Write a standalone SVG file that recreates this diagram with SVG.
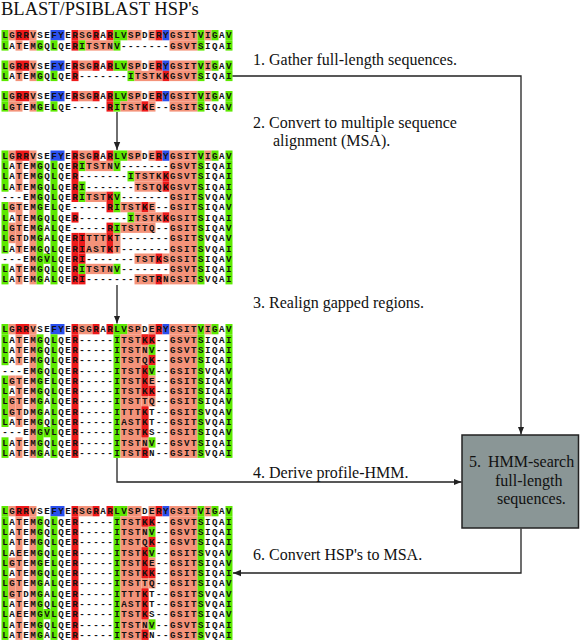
<svg xmlns="http://www.w3.org/2000/svg" xmlns:xlink="http://www.w3.org/1999/xlink" width="580" height="641" viewBox="0 0 580 641">
<style>
.g{fill:#5de800}.r{fill:#ee1a1a}.s{fill:#f4937a}.b{fill:#2b50ee}
.sq{font-family:"Liberation Mono","DejaVu Sans Mono",monospace;font-weight:bold;font-size:9.2px;letter-spacing:1.48px;fill:#111}
.lbl{font-family:"Liberation Serif","Times New Roman",serif;font-size:16px;fill:#111}
.ttl{font-family:"Liberation Serif","Times New Roman",serif;font-size:18.5px;fill:#111}
.ln{fill:none;stroke:#222;stroke-width:1.3}
</style>
<defs>
<marker id="ah" viewBox="0 0 10 10" refX="10" refY="5" markerWidth="8" markerHeight="8" markerUnits="userSpaceOnUse" orient="auto"><path d="M0,1L10,5L0,9z" fill="#222"/></marker>
<g id="q">
<rect class="g" x="0" width="1" height="1"/><rect class="s" x="1" width="1" height="1"/><rect class="r" x="2" width="2" height="1"/><rect class="s" x="4" width="1" height="1"/><rect class="b" x="7" width="2" height="1"/><rect class="r" x="10" width="1" height="1"/><rect class="s" x="11" width="2" height="1"/><rect class="r" x="13" width="1" height="1"/><rect class="r" x="15" width="1" height="1"/><rect class="g" x="16" width="2" height="1"/><rect class="s" x="18" width="2" height="1"/><rect class="s" x="21" width="1" height="1"/><rect class="r" x="22" width="1" height="1"/><rect class="b" x="23" width="1" height="1"/><rect class="s" x="24" width="4" height="1"/><rect class="g" x="28" width="1" height="1"/><rect class="s" x="29" width="1" height="1"/><rect class="g" x="30" width="1" height="1"/><rect class="g" x="32" width="1" height="1"/>
</g>
<g id="pa"><rect class="g" x="0" width="1" height="1"/><rect class="s" x="2" width="1" height="1"/><rect class="s" x="4" width="1" height="1"/><rect class="g" x="5" width="1" height="1"/><rect class="g" x="7" width="1" height="1"/><rect class="r" x="10" width="1" height="1"/></g>
<g id="pb"><rect class="g" x="0" width="1" height="1"/><rect class="s" x="1" width="2" height="1"/><rect class="s" x="4" width="1" height="1"/><rect class="g" x="5" width="1" height="1"/><rect class="g" x="7" width="1" height="1"/></g>
<g id="sf"><rect class="s" x="24" width="4" height="1"/><rect class="g" x="28" width="1" height="1"/><rect class="g" x="32" width="1" height="1"/></g>
</defs>
<rect width="580" height="641" fill="#fff"/>
<text class="ttl" x="1" y="14.5">BLAST/PSIBLAST HSP's</text>

<g id="block1">
<g transform="translate(1.5,30) scale(7,10.3)">
<use xlink:href="#q"/>
<g transform="translate(0,1)"><use xlink:href="#pa"/><rect class="g" x="11" width="1" height="1"/><rect class="s" x="12" width="4" height="1"/><rect class="g" x="16" width="1" height="1"/><use xlink:href="#sf"/></g>
</g>
<g transform="translate(1.5,60.5) scale(7,10.3)">
<use xlink:href="#q"/>
<g transform="translate(0,1)"><use xlink:href="#pa"/><rect class="g" x="18" width="1" height="1"/><rect class="s" x="19" width="4" height="1"/><rect class="r" x="23" width="1" height="1"/><use xlink:href="#sf"/></g>
</g>
<g transform="translate(1.5,91) scale(7,10.3)">
<use xlink:href="#q"/>
<g transform="translate(0,1)"><use xlink:href="#pb"/><rect class="r" x="15" width="1" height="1"/><rect class="g" x="16" width="1" height="1"/><rect class="s" x="17" width="3" height="1"/><rect class="r" x="20" width="1" height="1"/><rect class="s" x="21" width="1" height="1"/><use xlink:href="#sf"/></g>
</g>
<g class="sq">
<text x="2.24" y="38.3">LGRRVSEFYERSGRARLVSPDERYGSITVIGAV</text>
<text x="2.24" y="48.6">LATEMGQLQERITSTNV-------GSVTSIQAI</text>
<text x="2.24" y="68.8">LGRRVSEFYERSGRARLVSPDERYGSITVIGAV</text>
<text x="2.24" y="79.1">LATEMGQLQER-------ITSTKKGSVTSIQAI</text>
<text x="2.24" y="99.3">LGRRVSEFYERSGRARLVSPDERYGSITVIGAV</text>
<text x="2.24" y="109.6">LGTEMGELQE-----RITSTKE--GSITSIQAV</text>
</g>
</g>

<g id="block2">
<g transform="translate(1.5,150.5) scale(7,10.3)">
<use xlink:href="#q"/>
<rect class="g" x="0" y="1" width="1" height="3"/><rect class="g" x="0" y="5" width="1" height="5"/><rect class="g" x="0" y="11" width="1" height="2"/>
<rect class="s" x="1" y="5" width="1" height="1"/><rect class="s" x="1" y="7" width="1" height="2"/>
<rect class="s" x="2" y="1" width="1" height="3"/><rect class="s" x="2" y="5" width="1" height="5"/><rect class="s" x="2" y="11" width="1" height="2"/>
<rect class="s" x="4" y="1" width="1" height="12"/><rect class="g" x="5" y="1" width="1" height="12"/><rect class="g" x="6" y="10" width="1" height="1"/><rect class="g" x="7" y="1" width="1" height="12"/>
<rect class="r" x="10" y="1" width="1" height="4"/><rect class="r" x="10" y="6" width="1" height="1"/><rect class="r" x="10" y="8" width="1" height="5"/>
<rect class="g" x="11" y="1" width="1" height="1"/><rect class="s" x="12" y="1" width="4" height="1"/><rect class="g" x="16" y="1" width="1" height="1"/>
<rect class="g" x="18" y="2" width="1" height="1"/><rect class="s" x="19" y="2" width="4" height="1"/><rect class="r" x="23" y="2" width="1" height="1"/>
<rect class="g" x="11" y="3" width="1" height="1"/><rect class="s" x="19" y="3" width="4" height="1"/><rect class="r" x="23" y="3" width="1" height="1"/>
<rect class="g" x="11" y="4" width="1" height="1"/><rect class="s" x="12" y="4" width="3" height="1"/><rect class="r" x="15" y="4" width="1" height="1"/><rect class="g" x="16" y="4" width="1" height="1"/>
<rect class="r" x="15" y="5" width="1" height="1"/><rect class="g" x="16" y="5" width="1" height="1"/><rect class="s" x="17" y="5" width="3" height="1"/><rect class="r" x="20" y="5" width="1" height="1"/><rect class="s" x="21" y="5" width="1" height="1"/>
<rect class="g" x="18" y="6" width="1" height="1"/><rect class="s" x="19" y="6" width="4" height="1"/><rect class="r" x="23" y="6" width="1" height="1"/>
<rect class="r" x="15" y="7" width="1" height="1"/><rect class="g" x="16" y="7" width="1" height="1"/><rect class="s" x="17" y="7" width="5" height="1"/>
<rect class="r" x="11" y="8" width="1" height="2"/><rect class="s" x="12" y="8" width="3" height="2"/><rect class="r" x="15" y="8" width="1" height="2"/><rect class="s" x="16" y="8" width="1" height="2"/>
<rect class="r" x="11" y="10" width="1" height="1"/><rect class="s" x="19" y="10" width="3" height="1"/><rect class="r" x="22" y="10" width="1" height="1"/><rect class="s" x="23" y="10" width="1" height="1"/>
<rect class="g" x="11" y="11" width="1" height="1"/><rect class="s" x="12" y="11" width="4" height="1"/><rect class="g" x="16" y="11" width="1" height="1"/>
<rect class="r" x="11" y="12" width="1" height="1"/><rect class="s" x="19" y="12" width="3" height="1"/><rect class="r" x="22" y="12" width="1" height="1"/><rect class="s" x="23" y="12" width="1" height="1"/>
<rect class="s" x="24" y="1" width="4" height="12"/><rect class="g" x="28" y="1" width="1" height="12"/><rect class="g" x="32" y="1" width="1" height="12"/>
</g>
<g class="sq" transform="translate(2.24,150.5)">
<text y="8.3">LGRRVSEFYERSGRARLVSPDERYGSITVIGAV</text>
<text y="18.6">LATEMGQLQERITSTNV-------GSVTSIQAI</text>
<text y="28.9">LATEMGQLQER-------ITSTKKGSVTSIQAI</text>
<text y="39.2">LATEMGQLQERI-------TSTQKGSVTSIQAI</text>
<text y="49.5">---EMGQLQERITSTKV-------GSITSVQAV</text>
<text y="59.8">LGTEMGELQE-----RITSTKE--GSITSIQAV</text>
<text y="70.1">LATEMGQLQER-------ITSTKKGSITSIQAI</text>
<text y="80.4">LGTEMGALQE-----RITSTTQ--GSITSIQAV</text>
<text y="90.7">LGTDMGALQERITTTKT-------GSITSVQAV</text>
<text y="101">LATEMGQLQERIASTKT-------GSITSVQAI</text>
<text y="111.3">---EMGVLQERI-------TSTKSGSITSIQAV</text>
<text y="121.6">LATEMGQLQERITSTNV-------GSVTSIQAI</text>
<text y="131.9">LATEMGALQERI-------TSTRNGSITSVQAI</text>
</g>
</g>

<g id="block3">
<g transform="translate(1.5,324) scale(7,10.3)">
<use xlink:href="#q"/>
<rect class="g" x="0" y="1" width="1" height="3"/><rect class="g" x="0" y="5" width="1" height="5"/><rect class="g" x="0" y="11" width="1" height="2"/>
<rect class="s" x="1" y="5" width="1" height="1"/><rect class="s" x="1" y="7" width="1" height="2"/>
<rect class="s" x="2" y="1" width="1" height="3"/><rect class="s" x="2" y="5" width="1" height="5"/><rect class="s" x="2" y="11" width="1" height="2"/>
<rect class="s" x="4" y="1" width="1" height="12"/><rect class="g" x="5" y="1" width="1" height="12"/><rect class="g" x="6" y="10" width="1" height="1"/><rect class="g" x="7" y="1" width="1" height="12"/>
<rect class="r" x="10" y="1" width="1" height="12"/>
<rect class="g" x="16" y="1" width="1" height="12"/><rect class="s" x="17" y="1" width="3" height="12"/>
<rect class="s" x="20" y="1" width="1" height="12"/><rect class="r" x="20" y="1" width="1" height="1"/><rect class="r" x="20" y="4" width="1" height="3"/><rect class="r" x="20" y="8" width="1" height="3"/><rect class="r" x="20" y="12" width="1" height="1"/>
<rect class="r" x="21" y="1" width="1" height="1"/><rect class="g" x="21" y="2" width="1" height="1"/><rect class="r" x="21" y="3" width="1" height="1"/><rect class="g" x="21" y="4" width="1" height="1"/><rect class="s" x="21" y="5" width="1" height="1"/><rect class="r" x="21" y="6" width="1" height="1"/><rect class="s" x="21" y="7" width="1" height="1"/><rect class="g" x="21" y="11" width="1" height="1"/>
<rect class="s" x="24" y="1" width="4" height="12"/><rect class="g" x="28" y="1" width="1" height="12"/><rect class="g" x="32" y="1" width="1" height="12"/>
</g>
<g class="sq" transform="translate(2.24,324)">
<text y="8.3">LGRRVSEFYERSGRARLVSPDERYGSITVIGAV</text>
<text y="18.6">LATEMGQLQER-----ITSTKK--GSVTSIQAI</text>
<text y="28.9">LATEMGQLQER-----ITSTNV--GSVTSIQAI</text>
<text y="39.2">LATEMGQLQER-----ITSTQK--GSVTSIQAI</text>
<text y="49.5">---EMGQLQER-----ITSTKV--GSITSVQAV</text>
<text y="59.8">LGTEMGELQER-----ITSTKE--GSITSIQAV</text>
<text y="70.1">LATEMGQLQER-----ITSTKK--GSITSIQAI</text>
<text y="80.4">LGTEMGALQER-----ITSTTQ--GSITSIQAV</text>
<text y="90.7">LGTDMGALQER-----ITTTKT--GSITSVQAV</text>
<text y="101">LATEMGQLQER-----IASTKT--GSITSVQAI</text>
<text y="111.3">---EMGVLQER-----ITSTKS--GSITSIQAV</text>
<text y="121.6">LATEMGQLQER-----ITSTNV--GSVTSIQAI</text>
<text y="131.9">LATEMGALQER-----ITSTRN--GSITSVQAI</text>
</g>
</g>

<g id="block4">
<g transform="translate(1.5,506) scale(7,10.3)">
<use xlink:href="#q"/>
<rect class="g" x="0" y="1" width="1" height="12"/>
<rect class="s" x="1" y="5" width="1" height="1"/><rect class="s" x="1" y="7" width="1" height="2"/>
<rect class="s" x="2" y="1" width="1" height="12"/>
<rect class="s" x="4" y="1" width="1" height="12"/><rect class="g" x="5" y="1" width="1" height="12"/><rect class="g" x="6" y="10" width="1" height="1"/><rect class="g" x="7" y="1" width="1" height="12"/>
<rect class="r" x="10" y="1" width="1" height="12"/>
<rect class="g" x="16" y="1" width="1" height="12"/><rect class="s" x="17" y="1" width="3" height="12"/>
<rect class="s" x="20" y="1" width="1" height="12"/><rect class="r" x="20" y="1" width="1" height="1"/><rect class="r" x="20" y="4" width="1" height="3"/><rect class="r" x="20" y="8" width="1" height="3"/><rect class="r" x="20" y="12" width="1" height="1"/>
<rect class="r" x="21" y="1" width="1" height="1"/><rect class="g" x="21" y="2" width="1" height="1"/><rect class="r" x="21" y="3" width="1" height="1"/><rect class="g" x="21" y="4" width="1" height="1"/><rect class="s" x="21" y="5" width="1" height="1"/><rect class="r" x="21" y="6" width="1" height="1"/><rect class="s" x="21" y="7" width="1" height="1"/><rect class="g" x="21" y="11" width="1" height="1"/>
<rect class="s" x="24" y="1" width="4" height="12"/><rect class="g" x="28" y="1" width="1" height="12"/><rect class="g" x="32" y="1" width="1" height="12"/>
</g>
<g class="sq" transform="translate(2.24,506)">
<text y="8.3">LGRRVSEFYERSGRARLVSPDERYGSITVIGAV</text>
<text y="18.6">LATEMGQLQER-----ITSTKK--GSVTSIQAI</text>
<text y="28.9">LATEMGQLQER-----ITSTNV--GSVTSIQAI</text>
<text y="39.2">LATEMGQLQER-----ITSTQK--GSVTSIQAI</text>
<text y="49.5">LAEEMGQLQER-----ITSTKV--GSITSVQAV</text>
<text y="59.8">LGTEMGELQER-----ITSTKE--GSITSIQAV</text>
<text y="70.1">LATEMGQLQER-----ITSTKK--GSITSIQAI</text>
<text y="80.4">LGTEMGALQER-----ITSTTQ--GSITSIQAV</text>
<text y="90.7">LGTDMGALQER-----ITTTKT--GSITSVQAV</text>
<text y="101">LATEMGQLQER-----IASTKT--GSITSVQAI</text>
<text y="111.3">LAEEMGVLQER-----ITSTKS--GSITSIQAV</text>
<text y="121.6">LATEMGQLQER-----ITSTNV--GSVTSIQAI</text>
<text y="131.9">LATEMGALQER-----ITSTRN--GSITSVQAI</text>
</g>
</g>

<g id="hmm-search">
<rect x="462" y="435" width="116.5" height="93" fill="#8a9696" stroke="#222" stroke-width="1.5"/>
<text class="lbl"><tspan x="469" y="467">5.</tspan><tspan x="488" y="467">HMM-search</tspan><tspan x="495" y="485.5">full-length</tspan><tspan x="497" y="504">sequences.</tspan></text>
</g>

<g id="connectors">
<path class="ln" d="M232.5,76H521V434.5" marker-end="url(#ah)"/>
<path class="ln" d="M117,112V150" marker-end="url(#ah)"/>
<path class="ln" d="M117,285V323.5" marker-end="url(#ah)"/>
<path class="ln" d="M117,458V482H461.5" marker-end="url(#ah)"/>
<path class="ln" d="M521,528.5V573H233" marker-end="url(#ah)"/>
</g>

<g id="labels" class="lbl">
<text x="253" y="65">1. Gather full-length sequences.</text>
<text x="253" y="128">2. Convert to multiple sequence</text>
<text x="273" y="146">alignment (MSA).</text>
<text x="253" y="308">3. Realign gapped regions.</text>
<text x="253" y="478">4. Derive profile-HMM.</text>
<text x="253" y="560">6. Convert HSP's to MSA.</text>
</g>
</svg>
